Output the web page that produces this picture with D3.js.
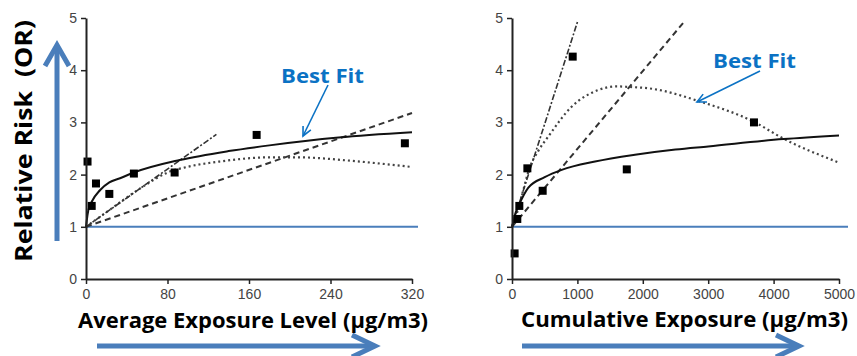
<html lang='en'>

<head>
    <title>Relative risk vs exposure</title>
    <script src="https://d3js.org/d3.v7.min.js" charset="utf-8"></script>
    <style>
        body { margin: 0; background: #fff; }
        .tick text { font-family: "Liberation Sans", Arial, sans-serif; font-size: 14px; fill: #444; }
        .big { font-family: "Open Sans", "Noto Sans", sans-serif; font-weight: bold; fill: #000; white-space: pre; }
        .fit { font-family: "Open Sans", "Noto Sans", sans-serif; font-weight: bold; fill: #0b72c4; }
    </style>
</head>

<body>
    <script>
        // ticks
        var yTicks = [0, 1, 2, 3, 4, 5];
        var avgTicks = [0, 80, 160, 240, 320];
        var cumTicks = [0, 1000, 2000, 3000, 4000, 5000];

        // average exposure panel (x in ug/m3, y = OR)
        var avgPoints = [[1.5, 2.25], [5.6, 1.40], [9.8, 1.83], [22.9, 1.63], [47, 2.02], [87, 2.04], [167.5, 2.76], [313, 2.60]];
        var avgSolid = [[0, 1.0], [0.6, 1.1], [2.3, 1.32], [5.6, 1.48], [13.7, 1.70], [22.9, 1.85], [33.4, 1.93], [47, 2.04], [92, 2.28], [140, 2.45], [180, 2.56], [248, 2.71], [320, 2.81]];
        var avgDotted = [[0, 1.0], [20, 1.28], [40, 1.56], [60, 1.82], [80, 2.04], [100, 2.15], [131, 2.25], [180, 2.33], [210, 2.33], [257, 2.27], [318, 2.15]];
        var avgDashed = [[0, 1.0], [320, 3.18]];
        var avgDashDot = [[0, 1.0], [128, 2.77]];

        // cumulative exposure panel
        var cumPoints = [[40, 0.49], [81, 1.15], [112, 1.40], [235, 2.12], [469, 1.69], [928, 4.26], [1755, 2.10], [3700, 3.0]];
        var cumSolid = [[0, 1.0], [20, 1.08], [50, 1.25], [100, 1.40], [250, 1.75], [500, 1.95], [760, 2.09], [1270, 2.25], [1880, 2.38], [2500, 2.48], [3000, 2.54], [4150, 2.68], [5000, 2.75]];
        var cumDotted = [[0, 1.0], [60, 1.2], [150, 1.6], [275, 2.15], [400, 2.45], [555, 2.73], [912, 3.30], [1320, 3.62], [1600, 3.69], [1780, 3.68], [2110, 3.65], [2875, 3.40], [3700, 3.01], [4150, 2.69], [5000, 2.23]];
        var cumDashed = [[0, 1.0], [2620, 4.91]];
        var cumDashDot = [[0, 1.02], [1010, 4.96]];

        var width = 857, height = 356;
        var blue = '#4a7ebb';

        var svg = d3.select('body').append('svg')
            .attr('width', width).attr('height', height);

        function panel(o) {
            var x = d3.scaleLinear().domain(o.xDomain).range([o.left, o.right]);
            var y = d3.scaleLinear().domain([0, 5]).range([279, 18]);
            var g = svg.append('g');

            // reference line OR = 1
            g.append('line')
                .attr('x1', x(0)).attr('x2', o.refEnd)
                .attr('y1', y(1)).attr('y2', y(1))
                .attr('stroke', blue).attr('stroke-width', 2);

            var line = d3.line().x(d => x(d[0])).y(d => y(d[1])).curve(d3.curveMonotoneX);
            var styles = [
                { data: o.dashed, dash: '6,4', w: 2, c: '#333' },
                { data: o.dotted, dash: '2,3', w: 2.2, c: '#444' },
                { data: o.dashDot, dash: '6,2,2,2', w: 1.6, c: '#333' },
                { data: o.solid, dash: null, w: 2, c: '#111' }
            ];
            styles.forEach(function (s) {
                g.append('path').datum(s.data)
                    .attr('fill', 'none').attr('stroke', s.c)
                    .attr('stroke-width', s.w)
                    .attr('stroke-dasharray', s.dash)
                    .attr('d', line);
            });

            g.selectAll('rect.pt').data(o.points).enter().append('rect')
                .attr('class', 'pt')
                .attr('x', d => x(d[0]) - 4).attr('y', d => y(d[1]) - 4)
                .attr('width', 8).attr('height', 8).attr('fill', '#000');

            var xa = g.append('g').attr('transform', 'translate(0,' + y(0) + ')')
                .call(d3.axisBottom(x).tickValues(o.xTicks).tickFormat(d3.format('d')).tickSize(5).tickSizeOuter(0));
            var ya = g.append('g').attr('transform', 'translate(' + x(0) + ',0)')
                .call(d3.axisLeft(y).tickValues(yTicks).tickFormat(d3.format('d')).tickSize(5).tickSizeOuter(0));
            [xa, ya].forEach(function (a) {
                a.select('.domain').attr('stroke', '#222').attr('stroke-width', 2);
                a.selectAll('.tick line').attr('stroke', '#222').attr('stroke-width', 1.5);
            });
            xa.selectAll('.tick text').attr('dy', '0.85em');
            ya.selectAll('.tick text').attr('dx', '-1px');
        }

        panel({
            xDomain: [0, 320], left: 86, right: 412, refEnd: 418, xTicks: avgTicks,
            points: avgPoints, solid: avgSolid, dotted: avgDotted, dashed: avgDashed, dashDot: avgDashDot
        });
        panel({
            xDomain: [0, 5000], left: 512, right: 839, refEnd: 848, xTicks: cumTicks,
            points: cumPoints, solid: cumSolid, dotted: cumDotted, dashed: cumDashed, dashDot: cumDashDot
        });

        // blue arrows
        function arrow(pts, head, w) {
            svg.append('path').attr('d', d3.line()(pts))
                .attr('stroke', blue).attr('stroke-width', w).attr('fill', 'none');
            svg.append('path').attr('d', d3.line()(head))
                .attr('stroke', blue).attr('stroke-width', w).attr('fill', 'none');
        }
        arrow([[57, 241], [57, 46]], [[45, 66], [57, 45], [69, 66]], 5);
        arrow([[97, 346], [372, 346]], [[352, 335], [375, 346], [352, 357]], 5);
        arrow([[522, 346], [796, 346]], [[776, 335], [799, 346], [776, 357]], 5);

        // labels
        svg.append('text').attr('class', 'big')
            .attr('transform', 'translate(32,262) rotate(-90)')
            .attr('font-size', 23).attr('textLength', 242).attr('lengthAdjust', 'spacingAndGlyphs')
            .text('Relative Risk  (OR)');
        svg.append('text').attr('class', 'big')
            .attr('x', 78).attr('y', 328).attr('font-size', 22)
            .attr('textLength', 350).attr('lengthAdjust', 'spacingAndGlyphs')
            .text('Average Exposure Level (\u00b5g/m3)');
        svg.append('text').attr('class', 'big')
            .attr('x', 521).attr('y', 327).attr('font-size', 22)
            .attr('textLength', 327).attr('lengthAdjust', 'spacingAndGlyphs')
            .text('Cumulative Exposure (\u00b5g/m3)');

        // best fit annotations
        function bestFit(tx, ty, from, to) {
            svg.append('text').attr('class', 'fit')
                .attr('x', tx).attr('y', ty).attr('font-size', 19)
                .attr('textLength', 83).attr('lengthAdjust', 'spacingAndGlyphs')
                .text('Best Fit');
            var a = Math.atan2(to[1] - from[1], to[0] - from[0]);
            var L = 10, s = 0.45;
            svg.append('path')
                .attr('d', d3.line()([from, to]))
                .attr('stroke', '#0b72c4').attr('stroke-width', 1.6).attr('fill', 'none');
            svg.append('path')
                .attr('d', d3.line()([
                    [to[0] - L * Math.cos(a - s), to[1] - L * Math.sin(a - s)], to,
                    [to[0] - L * Math.cos(a + s), to[1] - L * Math.sin(a + s)]]))
                .attr('stroke', '#0b72c4').attr('stroke-width', 1.6).attr('fill', 'none');
        }
        bestFit(281, 83, [328, 85], [303, 136]);
        bestFit(713, 68, [760, 71], [697, 102]);
    </script>
</body>

</html>
